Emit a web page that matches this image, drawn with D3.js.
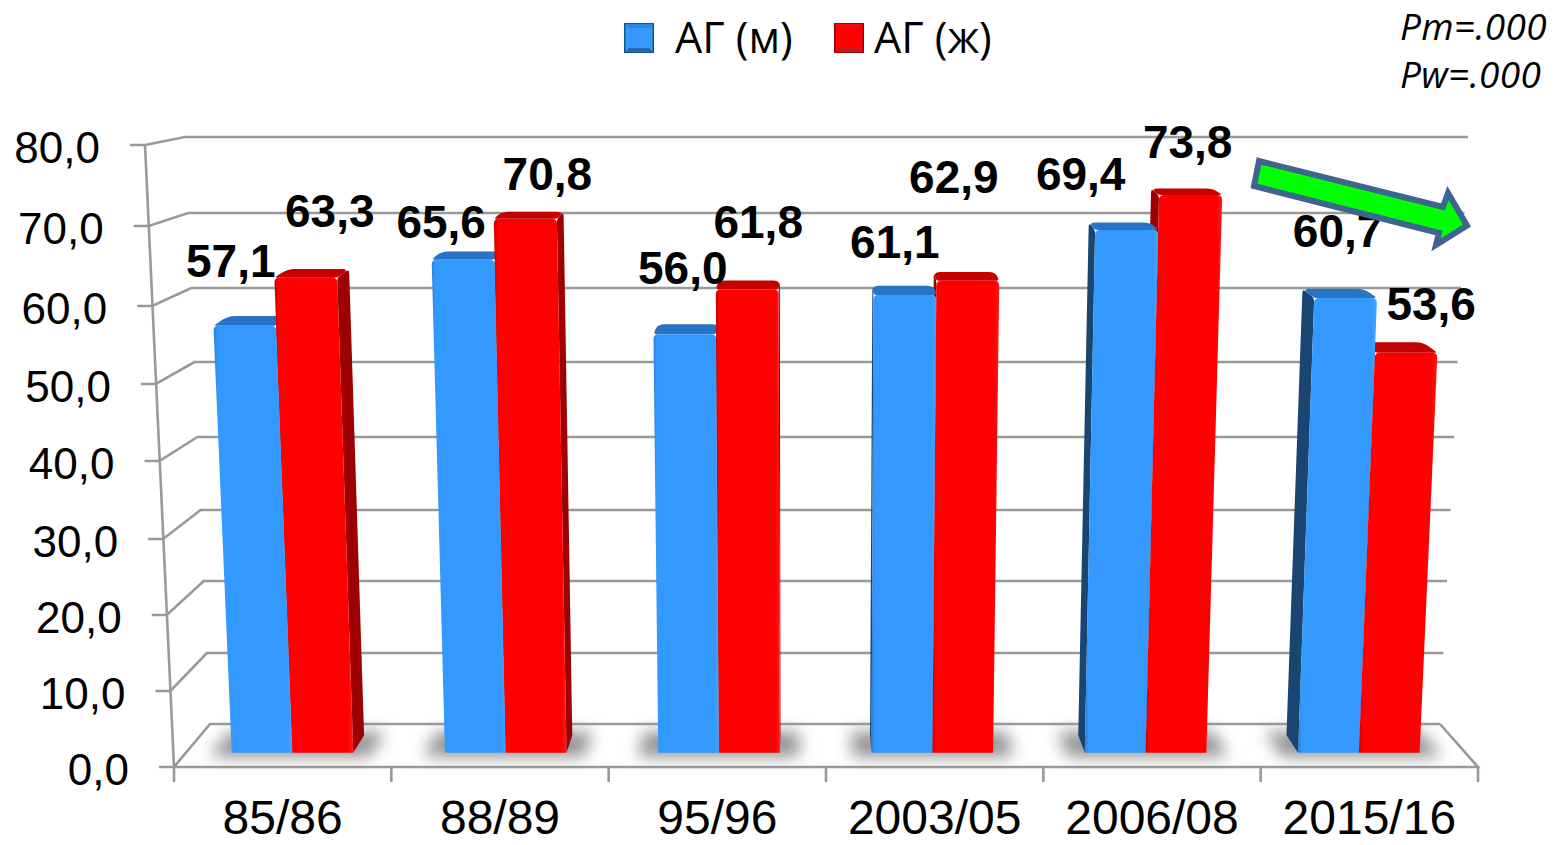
<!DOCTYPE html>
<html>
<head>
<meta charset="utf-8">
<script src="https://cdnjs.cloudflare.com/ajax/libs/d3/7.8.5/d3.min.js"></script>
<style>
  html, body { margin: 0; padding: 0; background: #fff; }
  svg { display: block; }
  text { font-family: "Liberation Sans", Arial, sans-serif; fill: #000; }
</style>
</head>
<body>
<svg id="chart" width="1555" height="845"></svg>
<script>
// Hypertension prevalence by survey period, men and women
const categories = ["85/86", "88/89", "95/96", "2003/05", "2006/08", "2015/16"];
const menValues = [57.1, 65.6, 56.0, 61.1, 69.4, 60.7];
const womenValues = [63.3, 70.8, 61.8, 62.9, 73.8, 53.6];
const yTickValues = [0, 10, 20, 30, 40, 50, 60, 70, 80];
const legendLabels = ["АГ (м)", "АГ (ж)"];
const pValueLabels = ["Pm=.000", "Pw=.000"];

// Hand-placed value label offsets from the top centre of each bar
const menLabelNudge = [[-14, -61], [-22, -34], [-2, -63], [-10, -49], [-46, -52], [-8, -64]];
const womenLabelNudge = [[24, -63], [22, -41], [11, -64], [-14, -100], [-3, -50], [25, -45]];

const svg = d3.select("#chart");
const comma = v => d3.format(".1f")(v).replace(".", ",");

// Box perspective: a point is (u across the floor, v value, d depth, 0 front to 1 back)
const yFront = d3.scaleLinear().domain(yTickValues).range([767, 691, 615, 539, 461, 384, 306, 226, 145]);
const yBack = d3.scaleLinear().domain(yTickValues).range([724, 653, 581, 510, 437, 362, 288, 213, 137]);
const leftFront = d3.scaleLinear().domain([0, 80]).range([174, 145]);
const leftBack = d3.scaleLinear().domain([0, 80]).range([210, 185]);
const rightFront = d3.scaleLinear().domain([0, 80]).range([1478, 1507]);
const rightBack = d3.scaleLinear().domain([0, 80]).range([1440, 1468]);

function project(u, v, d) {
  const xl = d3.interpolateNumber(leftFront(v), leftBack(v))(d);
  const xr = d3.interpolateNumber(rightFront(v), rightBack(v))(d);
  const y = d3.interpolateNumber(yFront(v), yBack(v))(d);
  return [xl + u * (xr - xl), y];
}
const poly = pts => pts.map(p => p.join(",")).join(" ");

// Closed path through pts, each corner eased over the given radius
function roundedPath(pts, radii) {
  const p = d3.path();
  const n = pts.length;
  const along = (a, b, r) => {
    const len = Math.hypot(b[0] - a[0], b[1] - a[1]) || 1;
    const t = Math.min(r / len, 0.5);
    return [a[0] + (b[0] - a[0]) * t, a[1] + (b[1] - a[1]) * t];
  };
  pts.forEach((c, i) => {
    const prev = pts[(i + n - 1) % n], next = pts[(i + 1) % n], r = radii[i];
    const a = along(c, prev, r), b = along(c, next, r);
    if (i === 0) p.moveTo(a[0], a[1]); else p.lineTo(a[0], a[1]);
    p.quadraticCurveTo(c[0], c[1], b[0], b[1]);
  });
  p.closePath();
  return p.toString();
}

const xGroup = d3.scaleBand().domain(categories).range([0, 1]).paddingInner(0.43).paddingOuter(0.215);
const xSeries = d3.scaleBand().domain(["men", "women"]).range([0, xGroup.bandwidth()]);
const barFrontDepth = 0.33, barBackDepth = 0.74;
// The bevelled cap sits a little under the nominal top of the box
const capFrontDrop = 3.5, capBackDrop = 1.5;

const palette = {
  men: { front: "#3399ff", edge: "#2a7fd6", light: "#45a6ff", side: "#1b4571", top: "#2774c4" },
  women: { front: "#ff0000", edge: "#c40000", light: "#ff1a1a", side: "#9c0000", top: "#c40000" }
};

// Gradients and blur
const defs = svg.append("defs");
Object.entries(palette).forEach(([key, c]) => {
  const g = defs.append("linearGradient").attr("id", "face-" + key);
  [[0, c.edge], [0.05, c.front], [0.93, c.front], [1, c.light]].forEach(([o, col]) =>
    g.append("stop").attr("offset", o).attr("stop-color", col));
});
defs.append("filter").attr("id", "soft").attr("x", "-30%").attr("y", "-80%").attr("width", "160%").attr("height", "260%")
  .append("feGaussianBlur").attr("stdDeviation", 8);

// Floor shadows under each pair of bars
const gridColor = "#999999";
svg.append("g").selectAll("polygon").data(categories).join("polygon")
  .attr("fill", "#929292")
  .attr("filter", "url(#soft)")
  .attr("points", c => {
    const a = xGroup(c) - 0.015, b = xGroup(c) + xGroup.bandwidth() + 0.015;
    return poly([project(a, 0, 0.24), project(b, 0, 0.24), project(b, 0, 0.82), project(a, 0, 0.82)]);
  });

// Walls: gridlines on the left wall and back wall, floor outline
const walls = svg.append("g").attr("fill", "none").attr("stroke", gridColor).attr("stroke-width", 2.6);
walls.selectAll("polyline.grid").data(yTickValues).join("polyline")
  .attr("class", "grid")
  .attr("points", v => poly([[leftFront(v) - 15, yFront(v)], [leftFront(v), yFront(v)], [leftBack(v), yBack(v)], [rightBack(v), yBack(v)]]));
walls.append("line")
  .attr("x1", leftFront(0)).attr("y1", yFront(0)).attr("x2", leftFront(80)).attr("y2", yFront(80));
walls.append("polyline")
  .attr("points", poly([[rightBack(0), yBack(0)], [rightFront(0), yFront(0)], [leftFront(0), yFront(0)]]));

// Category axis along the front floor edge
const xAxisScale = d3.scaleBand().domain(categories).range([leftFront(0), rightFront(0)]);
svg.append("g").selectAll("line").data(d3.range(categories.length + 1)).join("line")
  .attr("stroke", gridColor).attr("stroke-width", 2.6)
  .attr("x1", i => xAxisScale.range()[0] + i * xAxisScale.step())
  .attr("x2", i => xAxisScale.range()[0] + i * xAxisScale.step())
  .attr("y1", yFront(0)).attr("y2", yFront(0) + 15);
const xAxis = svg.append("g")
  .attr("transform", `translate(0,${yFront(0)})`)
  .call(d3.axisBottom(xAxisScale).tickSize(0).tickPadding(33));
xAxis.select(".domain").remove();
xAxis.selectAll("text").style("font-size", "48px").style("font-family", '"Liberation Sans", Arial, sans-serif').attr("dy", "0.71em").attr("fill", "#000");

// Value axis labels sit left of the slanted axis
svg.append("g").selectAll("text").data(yTickValues).join("text")
  .attr("x", v => leftFront(v) - 45)
  .attr("y", v => yFront(v) + 18)
  .attr("text-anchor", "end")
  .attr("font-size", 44)
  .text(comma);

// Bars as 3D boxes, painted from the outside of the view towards its centre
const bars = [];
categories.forEach((c, i) => {
  [["men", menValues, menLabelNudge], ["women", womenValues, womenLabelNudge]].forEach(([key, values, nudge]) => {
    const u0 = xGroup(c) + xSeries(key), u1 = u0 + xSeries.bandwidth();
    bars.push({ key, value: values[i], u0, u1, nudge: nudge[i] });
  });
});
bars.sort((a, b) => Math.abs(b.u0 + b.u1 - 1) - Math.abs(a.u0 + a.u1 - 1));

const barG = svg.append("g");
bars.forEach(b => {
  const c = palette[b.key];
  const g = barG.append("g");
  const f = barFrontDepth, k = barBackDepth, v = b.value;
  const drop = (p, dy) => [p[0], p[1] + dy];
  const capFront = u => drop(project(u, v, f), capFrontDrop);
  const capBack = u => drop(project(u, v, k), capBackDrop);
  const piece = (pts, radii, fill) => g.append("path")
    .attr("d", roundedPath(pts, radii)).attr("fill", fill);

  // Outer side wall, then the cap, then the front face
  const su = (b.u0 + b.u1) / 2 > 0.5 ? b.u0 : b.u1;
  piece([project(su, 0, f), capFront(su), capBack(su), project(su, 0, k)], [0, 3, 4, 0], c.side);
  piece([capFront(b.u0), capFront(b.u1), capBack(b.u1), capBack(b.u0)], [3, 3, 7, 7], c.top);
  piece([project(b.u0, 0, f), project(b.u1, 0, f), capFront(b.u1), capFront(b.u0)], [0, 0, 5, 5], `url(#face-${b.key})`);
});

// Value labels
svg.append("g").selectAll("text").data(bars).join("text")
  .attr("x", b => project((b.u0 + b.u1) / 2, b.value, barFrontDepth)[0] + b.nudge[0])
  .attr("y", b => project((b.u0 + b.u1) / 2, b.value, barFrontDepth)[1] + b.nudge[1] + 16)
  .attr("text-anchor", "middle")
  .attr("font-size", 46)
  .attr("font-weight", "bold")
  .text(b => comma(b.value));

// Legend with bevelled swatches
const legendItems = [
  { key: "men", x: 624, tx: 675, dark: "#14548f", topC: "#2a86de", bottomC: "#1f6ab3", centre: "#3399ff" },
  { key: "women", x: 834, tx: 874, dark: "#9a0000", topC: "#e81010", bottomC: "#c41c1c", centre: "#ff0000" }
];
const lg = svg.append("g");
legendItems.forEach((it, i) => {
  const x = it.x, y = 23, s = 30, b = 4;
  lg.append("rect").attr("x", x).attr("y", y).attr("width", s).attr("height", s).attr("fill", it.dark);
  lg.append("rect").attr("x", x + 1.5).attr("y", y + 1.5).attr("width", s - 3).attr("height", s - 3).attr("fill", it.centre);
  lg.append("polygon").attr("fill", it.topC)
    .attr("points", poly([[x + 1, y + 1], [x + s - 1, y + 1], [x + s - 1 - b, y + 1 + b], [x + 1 + b, y + 1 + b]]));
  lg.append("polygon").attr("fill", it.bottomC)
    .attr("points", poly([[x + 1, y + s - 1], [x + s - 1, y + s - 1], [x + s - 1 - b, y + s - 1 - b], [x + 1 + b, y + s - 1 - b]]));
  lg.append("text")
    .attr("x", it.tx).attr("y", 53)
    .attr("font-size", 43)
    .style("font-family", '"Open Sans", "Noto Sans", sans-serif')
    .text(legendLabels[i]);
});

// Significance notes in the top right corner
svg.append("g").selectAll("text").data(pValueLabels).join("text")
  .attr("x", 1400)
  .attr("y", (d, i) => 40 + i * 48)
  .attr("font-size", 37)
  .attr("font-style", "italic")
  .attr("letter-spacing", 0.3)
  .style("font-family", '"Open Sans", "Noto Sans", sans-serif')
  .text(d => d);

// Trend arrow drawn over the last labels
svg.append("polygon")
  .attr("fill", "#00ff00")
  .attr("stroke", "#3f6490")
  .attr("stroke-width", 6)
  .attr("stroke-linejoin", "miter")
  .attr("points", poly([[1259, 161], [1254, 186], [1439, 233], [1436, 245], [1467, 225.5], [1448, 193], [1443, 207]]));
</script>
</body>
</html>
